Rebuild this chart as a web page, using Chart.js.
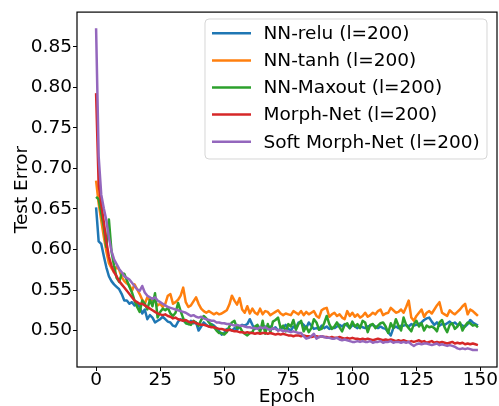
<!DOCTYPE html>
<html><head><meta charset="utf-8">
<script src="https://cdn.jsdelivr.net/npm/chart.js@4/dist/chart.umd.min.js"></script>
<style>html,body{margin:0;padding:0;background:#fff;}canvas{display:block;}</style>
</head><body>
<canvas id="c" width="499" height="406"></canvas>
<script>
const seriesLabels = ['NN-relu (l=200)', 'NN-tanh (l=200)', 'NN-Maxout (l=200)', 'Morph-Net (l=200)', 'Soft Morph-Net (l=200)'];
const seriesColors = ['#1f77b4', '#ff7f0e', '#2ca02c', '#d62728', '#9467bd'];

const nnRelu = [
0.652,0.610,0.607,0.592,0.578,0.567,0.561,0.557,0.554,0.551,
0.545,0.537,0.537,0.533,0.535,0.531,0.533,0.529,0.521,0.526,
0.514,0.519,0.516,0.510,0.512,0.514,0.517,0.514,0.511,0.510,
0.506,0.505,0.511,0.514,0.512,0.510,0.508,0.512,0.509,0.510,
0.500,0.505,0.510,0.507,0.505,0.508,0.506,0.503,0.499,0.495,
0.497,0.502,0.502,0.500,0.503,0.501,0.505,0.507,0.506,0.508,
0.514,0.507,0.502,0.505,0.504,0.503,0.505,0.502,0.505,0.502,
0.504,0.500,0.502,0.503,0.507,0.502,0.500,0.505,0.503,0.510,
0.510,0.507,0.503,0.510,0.506,0.502,0.503,0.502,0.506,0.503,
0.505,0.502,0.503,0.503,0.505,0.507,0.505,0.508,0.506,0.503,
0.507,0.505,0.503,0.506,0.504,0.503,0.505,0.506,0.507,0.505,
0.503,0.505,0.503,0.502,0.498,0.494,0.503,0.505,0.503,0.506,
0.506,0.507,0.505,0.508,0.506,0.507,0.508,0.510,0.513,0.515,
0.516,0.511,0.507,0.510,0.506,0.508,0.507,0.509,0.511,0.508,
0.510,0.507,0.508,0.506,0.505,0.508,0.513,0.510,0.508,0.506];

const nnTanh = [
0.685,0.657,0.636,0.616,0.598,0.583,0.577,0.572,0.579,0.575,
0.566,0.561,0.558,0.556,0.549,0.557,0.551,0.545,0.538,0.533,
0.541,0.537,0.538,0.536,0.531,0.533,0.529,0.533,0.543,0.545,
0.533,0.535,0.538,0.543,0.553,0.535,0.529,0.531,0.536,0.541,
0.533,0.527,0.524,0.522,0.524,0.522,0.520,0.522,0.520,0.521,
0.523,0.525,0.532,0.543,0.537,0.532,0.540,0.526,0.522,0.530,
0.521,0.527,0.522,0.520,0.527,0.520,0.524,0.523,0.519,0.521,
0.523,0.525,0.521,0.519,0.521,0.520,0.519,0.524,0.522,0.520,
0.524,0.519,0.523,0.520,0.522,0.524,0.518,0.516,0.525,0.527,
0.528,0.517,0.520,0.522,0.518,0.520,0.516,0.514,0.524,0.518,
0.522,0.517,0.520,0.516,0.518,0.522,0.517,0.519,0.522,0.520,
0.524,0.526,0.519,0.521,0.522,0.528,0.525,0.522,0.523,0.526,
0.522,0.529,0.537,0.516,0.512,0.518,0.522,0.526,0.517,0.522,
0.524,0.521,0.526,0.531,0.535,0.522,0.520,0.518,0.525,0.522,
0.520,0.523,0.526,0.530,0.533,0.520,0.526,0.524,0.521,0.518];

const nnMaxout = [
0.665,0.662,0.645,0.628,0.603,0.637,0.598,0.580,0.565,0.560,
0.570,0.570,0.562,0.554,0.547,0.537,0.529,0.523,0.537,0.533,
0.526,0.538,0.530,0.546,0.516,0.523,0.527,0.525,0.528,0.521,
0.518,0.522,0.534,0.524,0.515,0.509,0.508,0.507,0.512,0.510,
0.506,0.513,0.518,0.515,0.510,0.507,0.504,0.500,0.497,0.497,
0.495,0.498,0.505,0.510,0.512,0.503,0.505,0.499,0.496,0.494,
0.497,0.498,0.505,0.507,0.498,0.512,0.496,0.508,0.498,0.511,
0.513,0.516,0.503,0.506,0.499,0.508,0.505,0.513,0.501,0.508,
0.512,0.499,0.505,0.498,0.503,0.514,0.510,0.501,0.502,0.509,
0.518,0.508,0.502,0.505,0.510,0.504,0.499,0.507,0.509,0.503,
0.511,0.505,0.508,0.503,0.512,0.510,0.498,0.507,0.508,0.503,
0.506,0.509,0.510,0.505,0.497,0.509,0.503,0.514,0.506,0.500,
0.516,0.507,0.503,0.499,0.508,0.512,0.505,0.509,0.500,0.506,
0.504,0.505,0.503,0.499,0.510,0.513,0.504,0.498,0.507,0.509,
0.502,0.505,0.510,0.500,0.506,0.510,0.509,0.506,0.507,0.504];

const morphNet = [
0.793,0.680,0.656,0.634,0.610,0.591,0.580,0.572,0.567,0.561,
0.557,0.553,0.549,0.545,0.541,0.537,0.535,0.533,0.533,0.531,
0.529,0.527,0.525,0.523,0.521,0.520,0.519,0.520,0.518,0.517,
0.515,0.516,0.514,0.513,0.512,0.513,0.511,0.510,0.511,0.509,
0.508,0.507,0.507,0.506,0.505,0.504,0.504,0.503,0.502,0.502,
0.501,0.500,0.501,0.500,0.499,0.499,0.498,0.498,0.497,0.498,
0.497,0.497,0.496,0.497,0.496,0.497,0.497,0.496,0.497,0.496,
0.495,0.496,0.495,0.496,0.495,0.494,0.494,0.493,0.494,0.494,
0.493,0.494,0.493,0.493,0.492,0.493,0.493,0.492,0.493,0.492,
0.492,0.491,0.492,0.491,0.491,0.492,0.491,0.490,0.491,0.490,
0.491,0.490,0.490,0.489,0.490,0.489,0.490,0.489,0.488,0.489,
0.490,0.489,0.488,0.489,0.488,0.489,0.488,0.487,0.488,0.487,
0.488,0.487,0.486,0.487,0.486,0.487,0.488,0.486,0.487,0.485,
0.486,0.487,0.485,0.486,0.485,0.486,0.485,0.484,0.485,0.486,
0.484,0.485,0.484,0.485,0.483,0.484,0.483,0.484,0.483,0.482];

const softMorphNet = [
0.873,0.715,0.668,0.651,0.636,0.615,0.598,0.588,0.582,0.576,
0.572,0.567,0.565,0.563,0.559,0.555,0.551,0.549,0.555,0.547,
0.543,0.541,0.539,0.541,0.537,0.535,0.533,0.531,0.529,0.528,
0.527,0.526,0.525,0.524,0.523,0.522,0.520,0.518,0.519,0.517,
0.516,0.517,0.515,0.514,0.513,0.512,0.512,0.510,0.510,0.509,
0.509,0.508,0.508,0.507,0.506,0.507,0.506,0.506,0.505,0.504,
0.504,0.503,0.503,0.502,0.504,0.503,0.504,0.502,0.501,0.503,
0.502,0.500,0.501,0.499,0.500,0.499,0.498,0.499,0.498,0.497,
0.497,0.493,0.490,0.491,0.493,0.496,0.490,0.492,0.493,0.492,
0.491,0.491,0.490,0.490,0.491,0.489,0.488,0.489,0.488,0.487,
0.486,0.486,0.487,0.486,0.487,0.486,0.486,0.487,0.485,0.486,
0.486,0.487,0.485,0.486,0.486,0.487,0.485,0.486,0.486,0.485,
0.486,0.485,0.486,0.483,0.481,0.483,0.484,0.483,0.484,0.484,
0.483,0.482,0.483,0.484,0.482,0.483,0.482,0.481,0.482,0.481,
0.480,0.478,0.477,0.478,0.477,0.478,0.477,0.476,0.476,0.476];

const xTickValues = [0, 25, 50, 75, 100, 125, 150];
const yTickValues = [0.50, 0.55, 0.60, 0.65, 0.70, 0.75, 0.80, 0.85];

const seriesValues = [nnRelu, nnTanh, nnMaxout, morphNet, softMorphNet];
const epochs = nnRelu.map((_, i) => i);

const FONT = 'DejaVu Sans';
const FS = 18.5;

const frameAndLegend = {
  id: 'frameAndLegend',
  afterDatasetsDraw(chart) {
    const {ctx, chartArea: a} = chart;
    ctx.save();
    ctx.strokeStyle = '#000';
    ctx.lineWidth = 1.2;
    ctx.strokeRect(a.left, a.top, a.right - a.left, a.bottom - a.top);
    ctx.restore();
  },
  afterDraw(chart) {
    const {ctx} = chart;
    const bx = 205, by = 19, bw = 282, bh = 140, r = 4;
    ctx.save();
    ctx.beginPath();
    ctx.moveTo(bx + r, by);
    ctx.arcTo(bx + bw, by, bx + bw, by + bh, r);
    ctx.arcTo(bx + bw, by + bh, bx, by + bh, r);
    ctx.arcTo(bx, by + bh, bx, by, r);
    ctx.arcTo(bx, by, bx + bw, by, r);
    ctx.closePath();
    ctx.fillStyle = 'rgba(255,255,255,0.8)';
    ctx.fill();
    ctx.strokeStyle = 'rgba(204,204,204,0.8)';
    ctx.lineWidth = 1;
    ctx.stroke();
    ctx.font = FS + 'px "' + FONT + '"';
    ctx.textBaseline = 'middle';
    ctx.textAlign = 'left';
    chart.data.datasets.forEach((ds, i) => {
      const y = 33.3 + i * 27.1;
      ctx.strokeStyle = ds.borderColor;
      ctx.lineWidth = 2.5;
      ctx.beginPath();
      ctx.moveTo(212, y);
      ctx.lineTo(251, y);
      ctx.stroke();
      ctx.fillStyle = '#000';
      ctx.fillText(ds.label, 263.5, y + 1);
    });
    ctx.restore();
  }
};

new Chart(document.getElementById('c'), {
  type: 'line',
  data: {
    labels: epochs,
    datasets: seriesValues.map((vals, i) => ({
      label: seriesLabels[i],
      data: vals,
      borderColor: seriesColors[i],
      backgroundColor: seriesColors[i],
      borderWidth: 2.5,
      pointRadius: 0,
      tension: 0,
      fill: false,
      borderJoinStyle: 'round',
      borderCapStyle: 'butt',
      order: seriesValues.length - 1 - i
    }))
  },
  options: {
    responsive: false,
    animation: false,
    devicePixelRatio: 1,
    layout: {padding: {top: 9, right: 2, left: 0, bottom: 0}},
    plugins: {legend: {display: false}, tooltip: {enabled: false}},
    scales: {
      x: {
        type: 'linear',
        min: -7.45,
        max: 156.45,
        afterBuildTicks: (axis) => { axis.ticks = xTickValues.map(v => ({value: v})); },
        afterFit: (scale) => { scale.height = 39; },
        grid: {display: true, drawOnChartArea: false, drawTicks: true, tickLength: 4, tickColor: '#000', tickWidth: 1},
        border: {display: false},
        ticks: {color: '#000', font: {family: FONT, size: FS, lineHeight: 1}, padding: 0, maxRotation: 0, autoSkip: false,
          callback: (v) => String(v)},
        title: {display: true, text: 'Epoch', color: '#000', font: {family: FONT, size: FS, lineHeight: 1}, padding: {top: 0, bottom: 0}}
      },
      y: {
        type: 'linear',
        min: 0.455,
        max: 0.893,
        afterBuildTicks: (axis) => { axis.ticks = yTickValues.map(v => ({value: v})); },
        afterFit: (scale) => { scale.width = 77; },
        grid: {display: true, drawOnChartArea: false, drawTicks: true, tickLength: 4, tickColor: '#000', tickWidth: 1},
        border: {display: false},
        ticks: {color: '#000', font: {family: FONT, size: FS}, padding: 1, autoSkip: false,
          callback: (v) => Number(v).toFixed(2)},
        title: {display: true, text: 'Test Error', color: '#000', font: {family: FONT, size: FS, lineHeight: 1}, padding: {top: 12.5, bottom: 0}}
      }
    }
  },
  plugins: [frameAndLegend]
});
</script>
</body></html>
